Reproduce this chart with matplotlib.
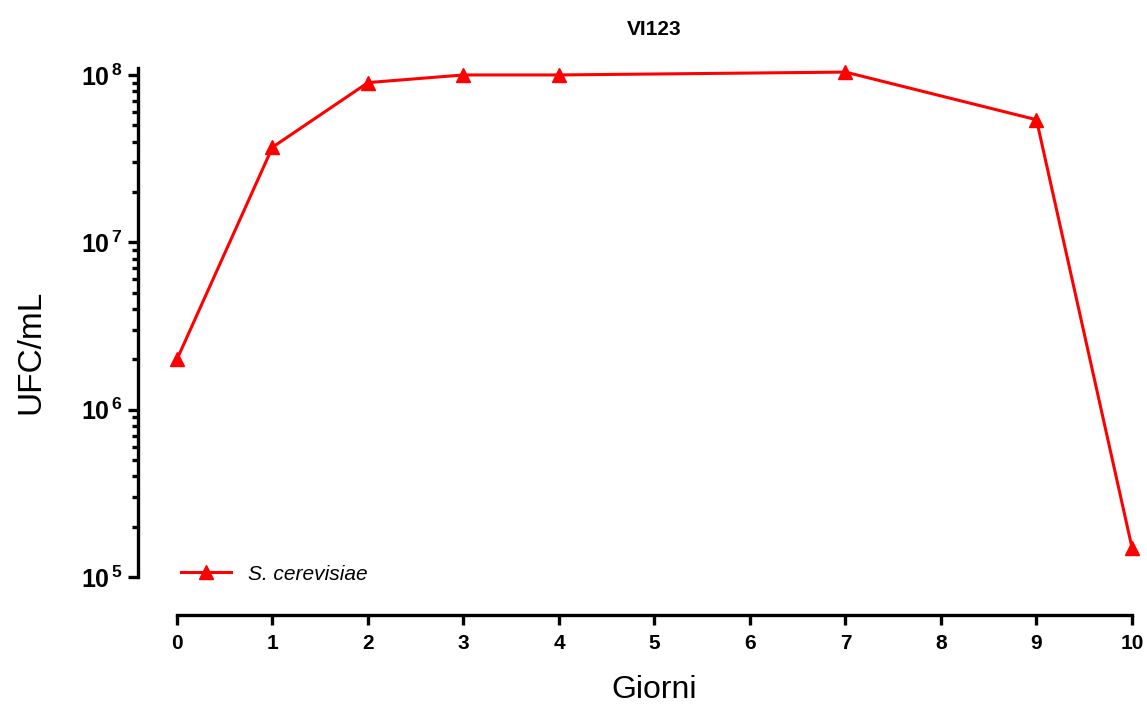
import numpy as np
import matplotlib.pyplot as plt
from matplotlib.ticker import LogLocator, FixedLocator, FuncFormatter, NullFormatter

plt.rcParams['font.family'] = ['Liberation Sans', 'DejaVu Sans']
plt.rcParams['mathtext.fontset'] = 'custom'
plt.rcParams['mathtext.rm'] = 'Liberation Sans:bold'
plt.rcParams['mathtext.bf'] = 'Liberation Sans:bold'

giorni = [0, 1, 2, 3, 4, 7, 9, 10]
ufc = [2.0e6, 3.7e7, 9.0e7, 1.0e8, 1.0e8, 1.04e8, 5.4e7, 1.5e5]
x_ticks = [0, 1, 2, 3, 4, 5, 6, 7, 8, 9, 10]

fig = plt.figure(figsize=(11.47, 7.10), dpi=100)
ax = fig.add_axes([0.1543, 0.1873, 0.8326, 0.7169])

ax.plot(giorni, ufc, color='#ff0000', lw=2.2, marker='^', markersize=10,
        clip_on=False, label='S. cerevisiae', zorder=3)

ax.set_yscale('log')
ax.set_ylim(1e5, 1.1e8)
ax.set_xlim(0, 10)

ax.spines['top'].set_visible(False)
ax.spines['right'].set_visible(False)
ax.spines['left'].set_position(('outward', 28))
ax.spines['bottom'].set_position(('outward', 27))
ax.spines['left'].set_linewidth(2.4)
ax.spines['bottom'].set_linewidth(2.4)
ax.spines['left'].set_bounds(1e5, 1.1e8)

ax.xaxis.set_major_locator(FixedLocator(x_ticks))
ax.tick_params(axis='x', which='major', length=7, width=2.4, labelsize=15, pad=7)
for lab in ax.get_xticklabels():
    lab.set_fontweight('bold')

ax.yaxis.set_major_locator(LogLocator(base=10, numticks=10))
ax.yaxis.set_minor_locator(LogLocator(base=10, subs=np.arange(2, 10), numticks=10))
ax.yaxis.set_minor_formatter(NullFormatter())
ax.yaxis.set_major_formatter(FuncFormatter(lambda v, p: r'$\mathbf{10^{\,%d}}$' % round(np.log10(v))))
ax.tick_params(axis='y', which='major', length=7, width=2.4, labelsize=18, pad=4)
ax.tick_params(axis='y', which='minor', length=4, width=2.4)

ax.set_xlabel('Giorni', fontsize=23, labelpad=16)
ax.set_ylabel('UFC/mL', fontsize=24)
ax.yaxis.set_label_coords(-0.137, 0.442)
ax.set_title('VI123', fontsize=15, fontweight='bold', pad=24)

leg = ax.legend(loc='lower left', bbox_to_anchor=(-0.015, -0.05), frameon=False,
                prop={'size': 15, 'style': 'italic'}, handlelength=2.4, handletextpad=0.8)

fig.savefig('out.png', dpi=100)
